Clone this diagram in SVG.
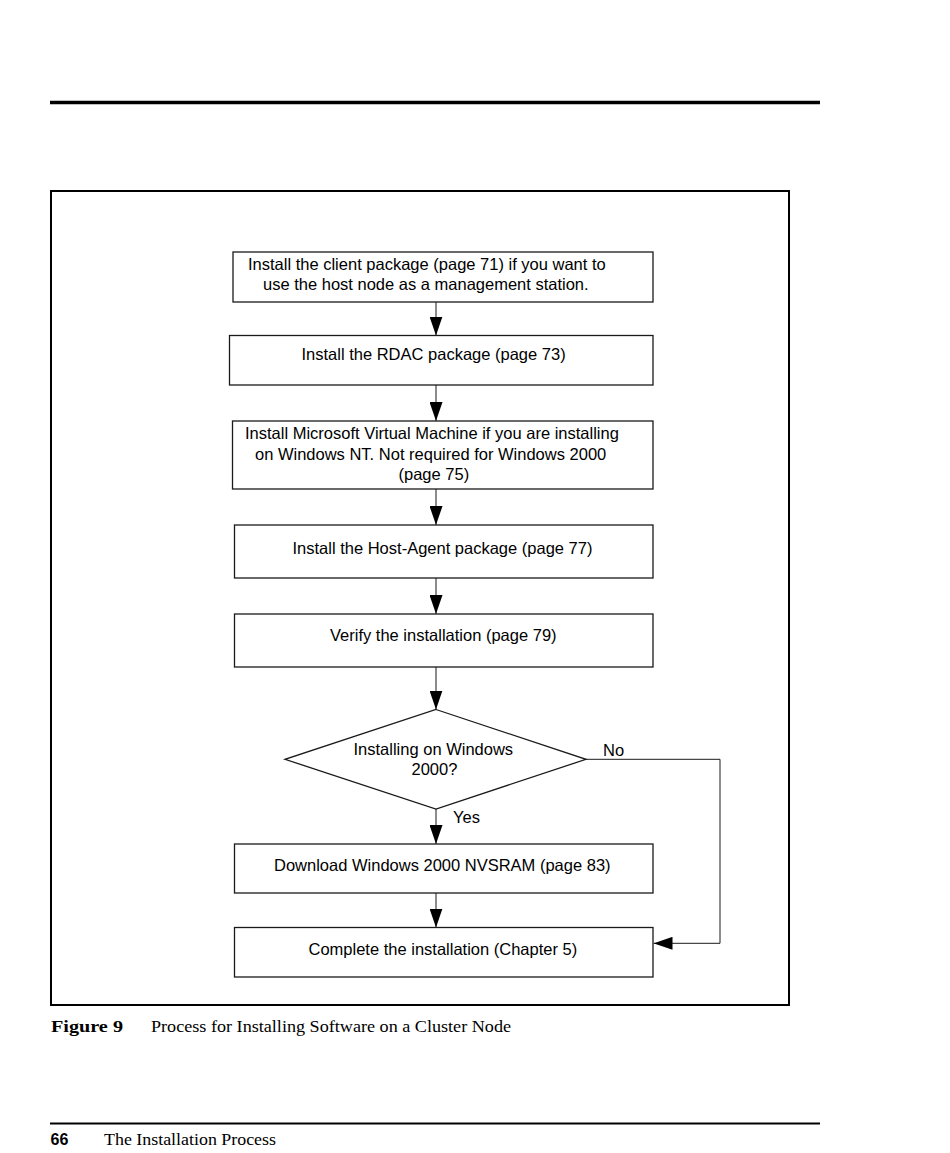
<svg xmlns="http://www.w3.org/2000/svg" width="950" height="1153" viewBox="0 0 950 1153">
<style>
.box{fill:#fff;stroke:#1a1a1a;stroke-width:1.3}
.t{font-family:"Liberation Sans",Arial,sans-serif;font-size:16.5px;fill:#000}
.c{stroke:#1a1a1a;stroke-width:1;fill:none}
.cap{font-family:"Liberation Serif","Times New Roman",serif;fill:#000}
</style>
<defs>
<marker id="ah" viewBox="0 0 19 13" refX="19" refY="6.5" markerWidth="19" markerHeight="13" markerUnits="userSpaceOnUse" orient="auto">
<path d="M0,0 L19,6.5 L0,13 Z" fill="#000"/>
</marker>
</defs>
<rect width="950" height="1153" fill="#fff"/>
<line x1="50" y1="102.5" x2="820" y2="102.5" stroke="#000" stroke-width="3.5"/>
<rect x="51" y="191" width="738" height="814" fill="none" stroke="#000" stroke-width="2"/>

<g id="connectors">
<line class="c" x1="436" y1="302" x2="436" y2="335.5" marker-end="url(#ah)"/>
<line class="c" x1="436" y1="385" x2="436" y2="421" marker-end="url(#ah)"/>
<line class="c" x1="436" y1="489" x2="436" y2="525" marker-end="url(#ah)"/>
<line class="c" x1="436" y1="578" x2="436" y2="614" marker-end="url(#ah)"/>
<line class="c" x1="436" y1="667" x2="436" y2="709.5" marker-end="url(#ah)"/>
<line class="c" x1="436" y1="809" x2="436" y2="844" marker-end="url(#ah)"/>
<line class="c" x1="436" y1="893" x2="436" y2="927.5" marker-end="url(#ah)"/>
<polyline class="c" points="586,759.3 720,759.3 720,943.3 653.5,943.3" marker-end="url(#ah)"/>
<text class="t" x="603" y="756">No</text>
<text class="t" x="453" y="823">Yes</text>
</g>

<g id="n1">
<rect class="box" x="233" y="252" width="420" height="50"/>
<text class="t" x="248" y="270">Install the client package (page 71) if you want to</text>
<text class="t" x="263" y="290">use the host node as a management station.</text>
</g>
<g id="n2">
<rect class="box" x="229.5" y="335.5" width="423.5" height="49.5"/>
<text class="t" x="301.5" y="360">Install the RDAC package (page 73)</text>
</g>
<g id="n3">
<rect class="box" x="232.5" y="421" width="420.5" height="68"/>
<text class="t" x="245" y="439">Install Microsoft Virtual Machine if you are installing</text>
<text class="t" x="255" y="459.5">on Windows NT. Not required for Windows 2000</text>
<text class="t" x="398.5" y="480">(page 75)</text>
</g>
<g id="n4">
<rect class="box" x="234.5" y="525" width="418.5" height="53"/>
<text class="t" x="292.5" y="554">Install the Host-Agent package (page 77)</text>
</g>
<g id="n5">
<rect class="box" x="234.5" y="614" width="418.5" height="53"/>
<text class="t" x="330" y="641">Verify the installation (page 79)</text>
</g>
<g id="n6">
<polygon class="box" points="436,709.5 586,759.3 436,809 285,759.3"/>
<text class="t" x="353.5" y="754.5">Installing on Windows</text>
<text class="t" x="411.5" y="775">2000?</text>
</g>
<g id="n7">
<rect class="box" x="234.5" y="844" width="418.5" height="49"/>
<text class="t" x="274" y="871">Download Windows 2000 NVSRAM (page 83)</text>
</g>
<g id="n8">
<rect class="box" x="234.5" y="927.5" width="418.5" height="49.5"/>
<text class="t" x="308.5" y="955">Complete the installation (Chapter 5)</text>
</g>

<text class="cap" x="51" y="1032" font-size="17" font-weight="bold" textLength="72" lengthAdjust="spacingAndGlyphs">Figure 9</text>
<text class="cap" x="151" y="1032" font-size="16" textLength="360" lengthAdjust="spacingAndGlyphs">Process for Installing Software on a Cluster Node</text>
<line x1="50" y1="1123.5" x2="820" y2="1123.5" stroke="#000" stroke-width="2.2"/>
<text x="50.5" y="1145" font-family="'Liberation Sans',Arial,sans-serif" font-size="16" font-weight="bold" fill="#000">66</text>
<text class="cap" x="104" y="1145" font-size="16" textLength="172" lengthAdjust="spacingAndGlyphs">The Installation Process</text>
</svg>
